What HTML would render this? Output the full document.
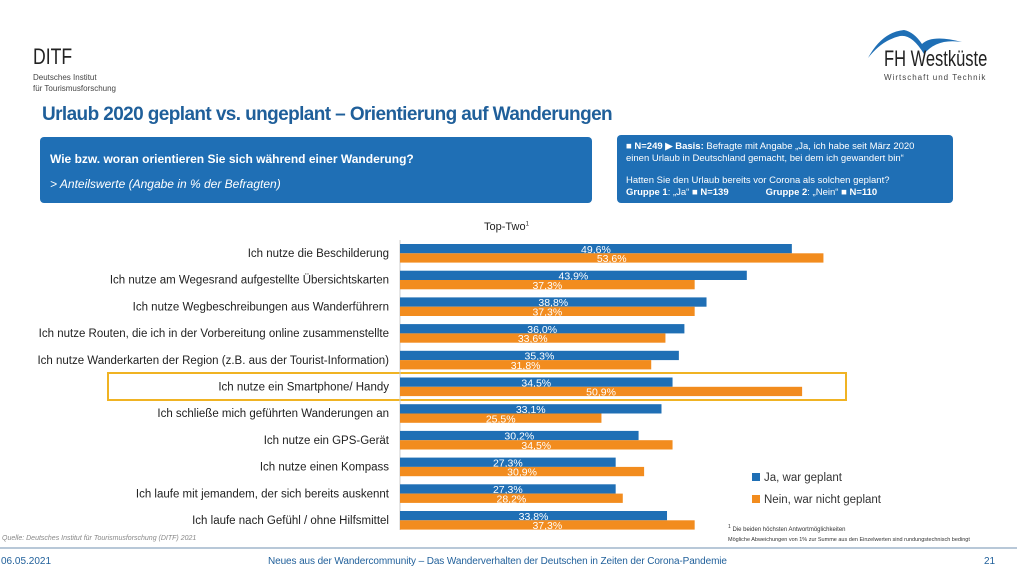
<!DOCTYPE html>
<html><head><meta charset="utf-8"><style>
body{margin:0;width:1017px;height:576px;background:#fff;position:relative;overflow:hidden;font-family:"Liberation Sans",sans-serif;}
.a{position:absolute;white-space:nowrap;}
</style></head><body>
<div class="a" style="left:33px;top:44px;font-size:22px;color:#222;transform:scaleX(0.8);transform-origin:left">DITF</div>
<div class="a" style="left:33px;top:72px;font-size:8px;line-height:11px;color:#444;">Deutsches Institut<br>für Tourismusforschung</div>
<svg class="a" style="left:862px;top:22px" width="120" height="40"><path d="M6 36 Q20 10 42 8 Q52 10 60 22 Q70 12 100 20 Q75 16 62 32 Q50 12 38 14 Q20 18 6 36Z" fill="#1f6fb5"/></svg>
<div class="a" style="left:884px;top:46px;font-size:22px;color:#222;transform:scaleX(0.75);transform-origin:left">FH Westküste</div>
<div class="a" style="left:884px;top:73px;font-size:8px;letter-spacing:1px;color:#444;">Wirtschaft und Technik</div>
<div class="a" style="left:42px;top:104px;font-size:19px;font-weight:bold;color:#1f5f9a;letter-spacing:-0.6px">Urlaub 2020 geplant vs. ungeplant – Orientierung auf Wanderungen</div>
<div class="a" style="left:40px;top:137px;width:552px;height:66px;background:#1f6fb5;border-radius:4px;color:#fff;">
<div class="a" style="left:10px;top:15px;font-size:12px;font-weight:bold;">Wie bzw. woran orientieren Sie sich während einer Wanderung?</div>
<div class="a" style="left:10px;top:40px;font-size:12px;font-style:italic;">&gt; Anteilswerte (Angabe in % der Befragten)</div></div>
<div class="a" style="left:617px;top:135px;width:336px;height:68px;background:#1f6fb5;border-radius:4px;color:#fff;font-size:9.5px;line-height:12px;">
<div class="a" style="left:9px;top:6px;">■ <b>N=249 ▶ Basis:</b> Befragte mit Angabe „Ja, ich habe seit März 2020<br>einen Urlaub in Deutschland gemacht, bei dem ich gewandert bin“</div>
<div class="a" style="left:9px;top:40px;">Hatten Sie den Urlaub bereits vor Corona als solchen geplant?<br><b>Gruppe 1</b>: „Ja“ ■ <b>N=139</b> &nbsp;&nbsp;&nbsp;&nbsp;&nbsp;&nbsp;&nbsp;&nbsp;&nbsp;&nbsp;&nbsp;&nbsp; <b>Gruppe 2</b>: „Nein“ ■ <b>N=110</b></div></div>
<div class="a" style="left:484px;top:221px;font-size:11px;color:#222;">Top-Two<sup style="font-size:6px">1</sup></div>
<div class="a" style="left:107px;top:372px;width:736px;height:25px;border:2px solid #f0b323;"></div>
<svg id="chart" class="a" style="left:0;top:0" width="1017" height="576"></svg>
<div class="a" style="left:752px;top:472px;font-size:11.5px;color:#333;"><span style="display:inline-block;width:8px;height:8px;background:#1f6fb5;margin-right:4px"></span>Ja, war geplant</div>
<div class="a" style="left:752px;top:494px;font-size:11.5px;color:#333;"><span style="display:inline-block;width:8px;height:8px;background:#f28c1e;margin-right:4px"></span>Nein, war nicht geplant</div>
<div class="a" style="left:728px;top:524px;font-size:6px;color:#333;"><sup>1</sup> Die beiden höchsten Antwortmöglichkeiten</div>
<div class="a" style="left:728px;top:537px;font-size:5.5px;color:#333;">Mögliche Abweichungen von 1% zur Summe aus den Einzelwerten sind rundungstechnisch bedingt</div>
<div class="a" style="left:2px;top:535px;font-size:7px;font-style:italic;color:#888;">Quelle: Deutsches Institut für Tourismusforschung (DITF) 2021</div>
<div class="a" style="left:0;top:547px;width:1017px;height:2px;background:#b8c8d8;"></div>
<div class="a" style="left:1px;top:556px;font-size:10px;color:#1f5f9a;">06.05.2021</div>
<div class="a" style="left:268px;top:556px;font-size:10px;color:#1f5f9a;letter-spacing:-0.1px">Neues aus der Wandercommunity – Das Wanderverhalten der Deutschen in Zeiten der Corona-Pandemie</div>
<div class="a" style="left:984px;top:556px;font-size:10px;color:#1f5f9a;">21</div>
<script>
const categories=["Ich nutze die Beschilderung","Ich nutze am Wegesrand aufgestellte Übersichtskarten","Ich nutze Wegbeschreibungen aus Wanderführern","Ich nutze Routen, die ich in der Vorbereitung online zusammenstellte","Ich nutze Wanderkarten der Region (z.B. aus der Tourist-Information)","Ich nutze ein Smartphone/ Handy","Ich schließe mich geführten Wanderungen an","Ich nutze ein GPS-Gerät","Ich nutze einen Kompass","Ich laufe mit jemandem, der sich bereits auskennt","Ich laufe nach Gefühl / ohne Hilfsmittel"];
const jaValues=[49.6,43.9,38.8,36.0,35.3,34.5,33.1,30.2,27.3,27.3,33.8];
const neinValues=[53.6,37.3,37.3,33.6,31.8,50.9,25.5,34.5,30.9,28.2,37.3];
const svg=document.getElementById('chart');
const NS='http://www.w3.org/2000/svg';
const x0=400,scale=7.9,y0=244,pitch=26.7,bh=9.3;
const xs=v=>x0+v*scale;
const ys=i=>y0+i*pitch;
function mk(t,a){const e=document.createElementNS(NS,t);for(const k in a)e.setAttribute(k,a[k]);svg.appendChild(e);return e;}
const fmt=v=>v.toFixed(1).replace('.',',')+'%';
const ax=mk('line',{x1:x0,x2:x0,y1:240,y2:530,stroke:'#ccc'});


categories.forEach((c,i)=>{
  const y=ys(i);
  const l=mk('text',{x:389,y:y+13,'text-anchor':'end','font-size':'11.5',fill:'#222','font-family':'Liberation Sans, sans-serif'});
  l.textContent=c;
  
  
  [[jaValues[i],'#1f6fb5',y,'bar-ja','label-ja'],[neinValues[i],'#f28c1e',y+bh,'bar-nein','label-nein']].forEach(([v,col,yy,bn,ln])=>{
    const r=mk('rect',{x:x0,y:yy,width:xs(v)-x0,height:bh,fill:col});
    
    
    const t=mk('text',{x:(x0+xs(v))/2,y:yy+bh-0.5,'text-anchor':'middle','font-size':'10.5',fill:'#fff','font-family':'Liberation Sans, sans-serif'});
    t.textContent=fmt(v);
    
    
  });
});
</script>
</body></html>
